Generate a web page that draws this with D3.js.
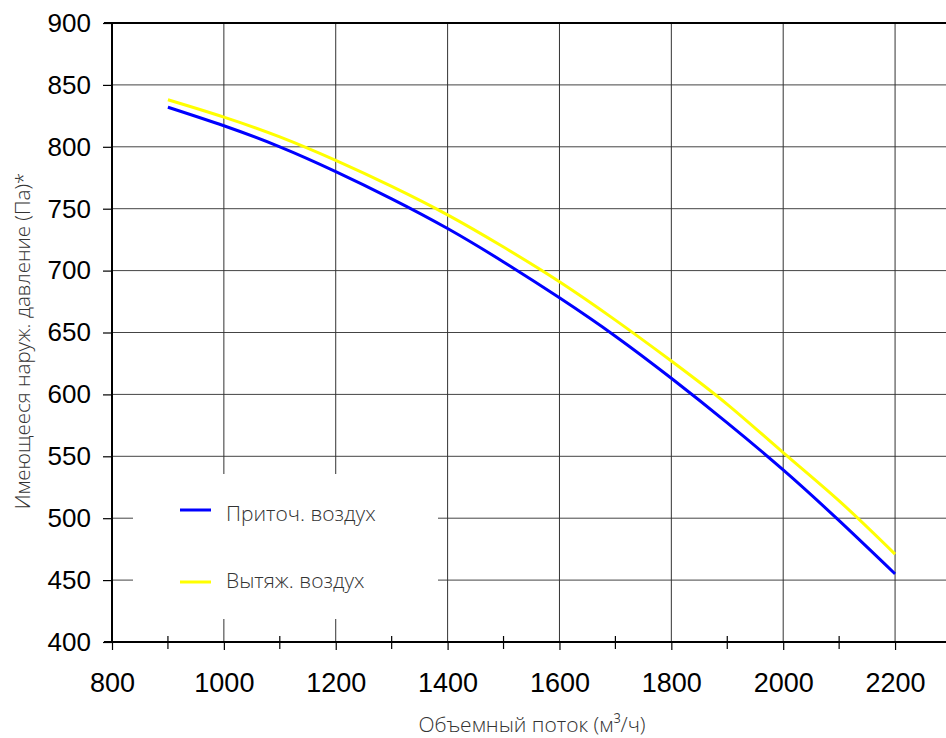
<!DOCTYPE html>
<html>
<head>
<meta charset="utf-8">
<script src="https://cdn.jsdelivr.net/npm/d3@7"></script>
<style>
body { margin: 0; background: #fff; }
svg { display: block; }
</style>
</head>
<body>
<div class="chart"></div>
<script>
var flow = [900, 1000, 1100, 1200, 1300, 1400, 1500, 1600, 1700, 1800, 1900, 2000, 2100, 2200];
var supplyAir = [832, 817, 800, 780, 758, 734, 707, 678, 647, 613, 577, 539, 498, 455];
var exhaustAir = [838, 824, 808, 789, 768, 745, 719, 691, 660, 627, 592, 553, 514, 471];
var xTicks = [800, 1000, 1200, 1400, 1600, 1800, 2000, 2200];
var xMinorTicks = [900, 1100, 1300, 1500, 1700, 1900, 2100];
var yTicks = [400, 450, 500, 550, 600, 650, 700, 750, 800, 850, 900];
var seriesNames = ["Приточ. воздух", "Вытяж. воздух"];
var seriesColors = ["#0000ff", "#ffff00"];

var width = 946, height = 738;
var x = d3.scaleLinear().domain([800, 2300]).range([112, 951]);
var y = d3.scaleLinear().domain([400, 900]).range([642, 23]);

var svg = d3.select(".chart")
    .append("svg")
    .attr("width", width)
    .attr("height", height);

// grid
svg.append("g").selectAll("line")
    .data(yTicks.filter(d => d > 400 && d < 900))
    .enter().append("line")
    .attr("x1", x(800)).attr("x2", width)
    .attr("y1", d => y(d)).attr("y2", d => y(d))
    .attr("stroke", "#444").attr("stroke-width", 1);

svg.append("g").selectAll("line")
    .data(xTicks.filter(d => d > 800))
    .enter().append("line")
    .attr("x1", d => x(d)).attr("x2", d => x(d))
    .attr("y1", y(400)).attr("y2", y(900))
    .attr("stroke", "#333").attr("stroke-width", 1);

// legend box hides the grid
svg.append("rect")
    .attr("x", 133).attr("y", 474)
    .attr("width", 305).attr("height", 145)
    .attr("fill", "#fff");

// frame: left, bottom, top
svg.append("line").attr("x1", x(800)).attr("x2", x(800)).attr("y1", y(400) + 1).attr("y2", y(900) - 1)
    .attr("stroke", "#000").attr("stroke-width", 2);
svg.append("line").attr("x1", x(800) - 8).attr("x2", width).attr("y1", y(400)).attr("y2", y(400))
    .attr("stroke", "#000").attr("stroke-width", 2);
svg.append("line").attr("x1", x(800) - 8).attr("x2", width).attr("y1", y(900)).attr("y2", y(900))
    .attr("stroke", "#000").attr("stroke-width", 2);

// axes
var yAxis = svg.append("g")
    .attr("transform", "translate(" + x(800) + ",0)")
    .call(d3.axisLeft(y).tickValues(yTicks).tickSize(9).tickPadding(12).tickFormat(d3.format("d")));
var xAxis = svg.append("g")
    .attr("transform", "translate(0," + y(400) + ")")
    .call(d3.axisBottom(x).tickValues(xTicks).tickSize(8).tickPadding(23).tickFormat(d3.format("d")));

[yAxis, xAxis].forEach(function (g) {
    g.select(".domain").remove();
    g.selectAll(".tick line").attr("stroke", "#000").attr("stroke-width", 1.2);
    g.selectAll("text")
        .attr("fill", "#000")
        .style("font-family", "'Liberation Sans', Arial, sans-serif");
});
yAxis.selectAll("text").style("font-size", "26px");
xAxis.selectAll("text").style("font-size", "27px");

svg.append("g").selectAll("line")
    .data(xMinorTicks)
    .enter().append("line")
    .attr("x1", d => x(d)).attr("x2", d => x(d))
    .attr("y1", y(400) - 6).attr("y2", y(400) + 7)
    .attr("stroke", "#000").attr("stroke-width", 1.2);

// curves
var line = d3.line()
    .x(d => x(d[0]))
    .y(d => y(d[1]))
    .curve(d3.curveNatural);

[supplyAir, exhaustAir].forEach(function (values, i) {
    svg.append("path")
        .datum(flow.map((f, j) => [f, values[j]]))
        .attr("d", line)
        .attr("fill", "none")
        .attr("stroke", seriesColors[i])
        .attr("stroke-width", 3);
});

var legend = svg.append("g").selectAll("g")
    .data(seriesNames)
    .enter().append("g")
    .attr("transform", (d, i) => "translate(180," + (510 + i * 72) + ")");
legend.append("line")
    .attr("x1", 0).attr("x2", 31)
    .attr("stroke", (d, i) => seriesColors[i])
    .attr("stroke-width", 3);
legend.append("text")
    .text(d => d)
    .attr("x", 46).attr("y", (d, i) => i == 0 ? 11 : 6)
    .attr("fill", "#333")
    .style("font-family", "'Open Sans', sans-serif")
    .style("font-weight", 300)
    .style("font-size", "21px");

// axis titles
svg.append("text")
    .text("Объемный поток (м³/ч)")
    .attr("x", 532).attr("y", 732)
    .attr("text-anchor", "middle")
    .attr("fill", "#333")
    .style("font-family", "'Open Sans', sans-serif")
    .style("font-weight", 300)
    .style("font-size", "21px");

svg.append("text")
    .text("Имеющееся наруж. давление (Па)*")
    .attr("transform", "translate(30,341) rotate(-90)")
    .attr("text-anchor", "middle")
    .attr("fill", "#333")
    .style("font-family", "'Open Sans', sans-serif")
    .style("font-weight", 300)
    .style("font-size", "20.5px");
</script>
</body>
</html>
